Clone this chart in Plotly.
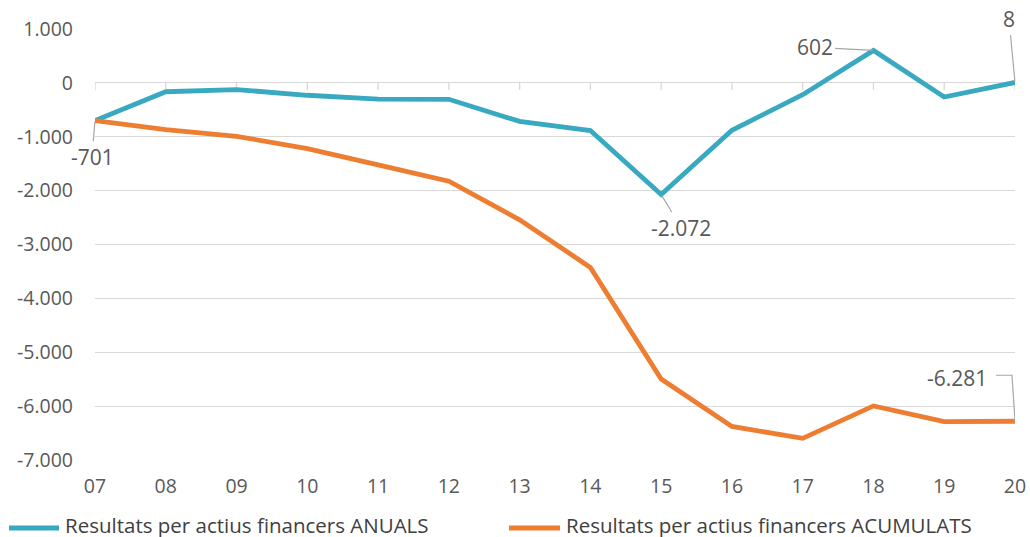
import plotly.graph_objects as go

years = ["07", "08", "09", "10", "11", "12", "13", "14", "15", "16", "17", "18", "19", "20"]
anuals = [-701, -165, -125, -230, -300, -305, -715, -885, -2072, -880, -220, 602, -262, 8]
acumulats = [-701, -866, -991, -1221, -1521, -1826, -2541, -3426, -5498, -6378, -6598, -5996, -6289, -6281]
y_ticks = [1000, 0, -1000, -2000, -3000, -4000, -5000, -6000, -7000]

name_anuals = "Resultats per actius financers ANUALS"
name_acum = "Resultats per actius financers ACUMULATS"

BLUE = "#38A9C0"
ORANGE = "#ED7D31"
GRID = "#D9D9D9"
TXT = "#595959"
LEAD = "#A6A6A6"
FONT = "Open Sans"
FS_TICK = 19.5
FS_LAB = 21
FS_LEG = 20.5

W, H = 1030, 537
ML, MR, MT, MB = 95, 15, 29, 77
PW, PH = W - ML - MR, H - MT - MB

def px_x(p):  # window pixel -> paper
    return (p - ML) / PW

def px_y(p):
    return (H - MB - p) / PH

def fmt(v):
    return f"{v:,}".replace(",", ".")

fig = go.Figure()
fig.add_trace(go.Scatter(x=list(range(len(years))), y=anuals, mode="lines",
                         line=dict(color=BLUE, width=4.8), cliponaxis=False,
                         name=name_anuals, showlegend=False, hoverinfo="skip"))
fig.add_trace(go.Scatter(x=list(range(len(years))), y=acumulats, mode="lines",
                         line=dict(color=ORANGE, width=4.8), cliponaxis=False,
                         name=name_acum, showlegend=False, hoverinfo="skip"))

shapes = []
# tick marks hanging from the 0 line
for i in range(len(years)):
    shapes.append(dict(type="line", xref="x", yref="y", x0=i, x1=i,
                       ysizemode="pixel", yanchor=0, y0=0, y1=-7,
                       line=dict(color=GRID, width=1.3), layer="below"))

# legend (manual)
line_y = px_y(528)
text_y = px_y(525)
shapes.append(dict(type="line", xref="paper", yref="paper", x0=px_x(9), x1=px_x(59),
                   y0=line_y, y1=line_y, line=dict(color=BLUE, width=5)))
shapes.append(dict(type="line", xref="paper", yref="paper", x0=px_x(509), x1=px_x(560),
                   y0=line_y, y1=line_y, line=dict(color=ORANGE, width=5)))

annotations = [
    dict(xref="paper", yref="paper", x=px_x(63), y=text_y, text=name_anuals, showarrow=False,
         xanchor="left", yanchor="middle", font=dict(family=FONT, size=FS_LEG, color="#404040")),
    dict(xref="paper", yref="paper", x=px_x(564), y=text_y, text=name_acum, showarrow=False,
         xanchor="left", yanchor="middle", font=dict(family=FONT, size=FS_LEG, color="#404040")),
]

# data labels with leader lines
label_specs = [
    (0, anuals[0], -3, 36),
    (8, anuals[8], 20, 33),
    (11, anuals[11], -58, -3),
    (13, anuals[13], -6, -63),
]
for xi, v, ax, ay in label_specs:
    annotations.append(dict(x=xi, y=v, xref="x", yref="y", text=fmt(v), showarrow=True,
                            arrowhead=0, arrowwidth=1.2, arrowcolor=LEAD, ax=ax, ay=ay,
                            standoff=1,
                            font=dict(family=FONT, size=FS_LAB, color=TXT)))

# -6.281 label with elbow leader
last = len(years) - 1
annotations.append(dict(x=last, y=acumulats[last], xref="x", yref="y", text=fmt(acumulats[last]),
                        showarrow=True, arrowcolor="rgba(0,0,0,0)", ax=-58, ay=-43,
                        font=dict(family=FONT, size=FS_LAB, color=TXT)))
shapes.append(dict(type="path", xref="x", yref="y", xsizemode="pixel", ysizemode="pixel",
                   xanchor=last, yanchor=acumulats[last],
                   path="M-19,46 L-3,46 L0,0", line=dict(color=LEAD, width=1.2)))

fig.update_layout(
    width=W, height=H,
    margin=dict(l=ML, r=MR, t=MT, b=MB, pad=0, autoexpand=False),
    paper_bgcolor="white", plot_bgcolor="white",
    separators=",.",
    showlegend=False,
    hovermode=False,
    shapes=shapes,
    annotations=annotations,
    xaxis=dict(range=[0, len(years) - 1], tickmode="array", automargin=False,
               tickvals=list(range(len(years))), ticktext=years,
               showgrid=False, zeroline=False, showline=False, ticks="",
               ticklabelstandoff=12,
               tickfont=dict(family=FONT, size=FS_TICK, color=TXT)),
    yaxis=dict(range=[-7000, 1000], tickmode="array", tickvals=y_ticks, automargin=False,
               ticktext=[fmt(v) for v in y_ticks],
               showgrid=True, gridcolor=GRID, gridwidth=1.3,
               zeroline=False, showline=False, ticks="",
               ticklabelstandoff=21,
               tickfont=dict(family=FONT, size=FS_TICK, color=TXT)),
)

fig.write_html("out.html", config={"displayModeBar": False},
               post_script="document.body.style.margin='0';document.body.style.overflow='hidden';")
